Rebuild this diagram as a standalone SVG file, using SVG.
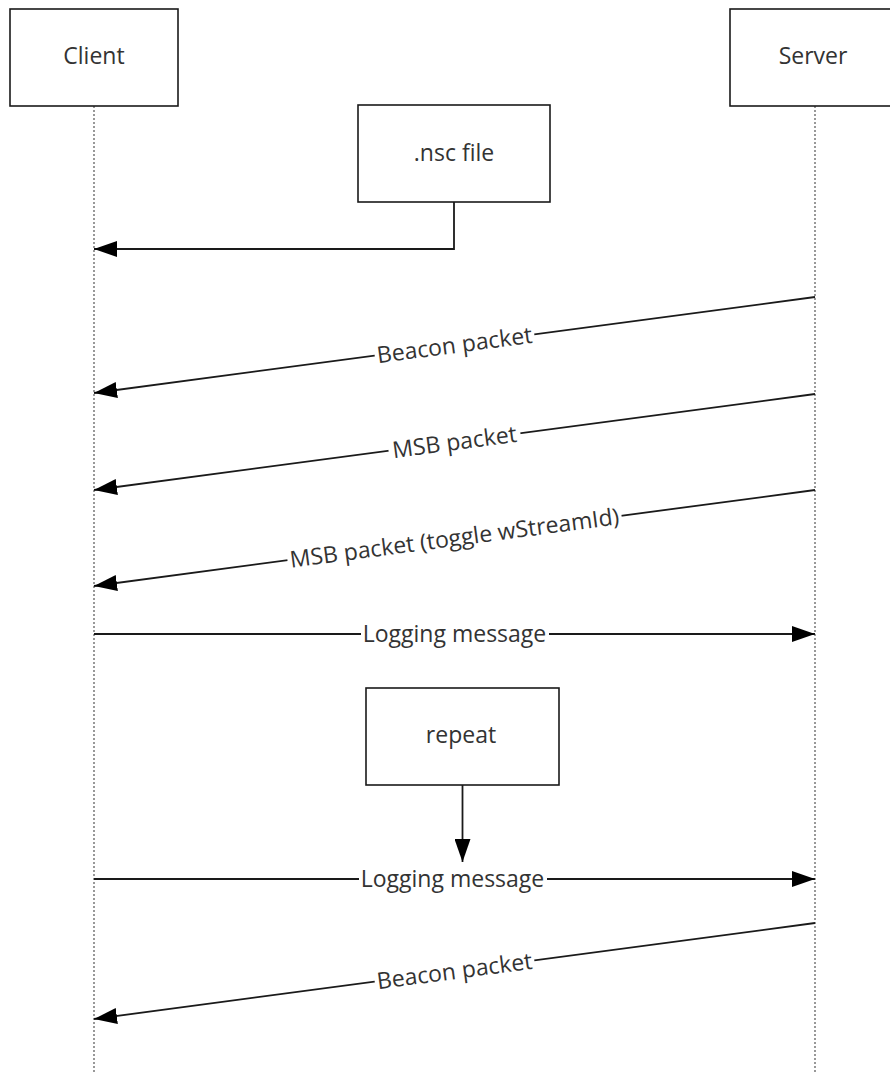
<svg xmlns="http://www.w3.org/2000/svg" width="890" height="1074" viewBox="0 0 890 1074">
<defs>
<style>
.box{fill:#fff;stroke:#1a1a1a;stroke-width:1.6}
.life{stroke:#555;stroke-width:1.2;stroke-dasharray:2 2;fill:none}
.msg{stroke:#1a1a1a;stroke-width:1.8;fill:none}
.lbl{font-family:"Open Sans","Noto Sans","Liberation Sans",sans-serif;font-size:23px;fill:#333;text-anchor:middle}
.gap{fill:#fff;stroke:none}
</style>
<marker id="arr" viewBox="0 0 23 16" markerWidth="23" markerHeight="16" refX="23" refY="8" orient="auto" markerUnits="userSpaceOnUse">
<path d="M0,0 L23,8 L0,16 Z" fill="#000"/>
</marker>
</defs>
<rect width="890" height="1074" fill="#fff"/>
<g id="lifelines">
<line class="life" x1="94" y1="106" x2="94" y2="1074"/>
<line class="life" x1="815" y1="106" x2="815" y2="1074"/>
</g>
<g id="client">
<rect class="box" x="10" y="9" width="168" height="97"/>
<text class="lbl" x="94" y="64">Client</text>
</g>
<g id="server">
<rect class="box" x="730" y="9" width="168" height="97"/>
<text class="lbl" x="813" y="64">Server</text>
</g>
<g id="nscfile">
<rect class="box" x="358" y="105" width="192" height="97"/>
<text class="lbl" x="454" y="161">.nsc file</text>
</g>
<g id="repeat">
<rect class="box" x="366" y="688" width="193" height="97"/>
<text class="lbl" x="461" y="743">repeat</text>
</g>
<g id="connectors">
<polyline class="msg" points="454,202 454,249 94,249" marker-end="url(#arr)"/>
<line class="msg" x1="462.5" y1="785" x2="462.5" y2="862" marker-end="url(#arr)"/>
<g>
<line class="msg" x1="815" y1="297" x2="94" y2="393" marker-end="url(#arr)"/>
<g transform="rotate(-7.58 454.5 345)">
<rect class="gap" x="374" y="333" width="161" height="24"/>
<text class="lbl" x="454.5" y="353">Beacon packet</text>
</g>
</g>
<g>
<line class="msg" x1="815" y1="394" x2="94" y2="490" marker-end="url(#arr)"/>
<g transform="rotate(-7.58 454.5 442)">
<rect class="gap" x="388" y="430" width="133" height="24"/>
<text class="lbl" x="454.5" y="450">MSB packet</text>
</g>
</g>
<g>
<line class="msg" x1="815" y1="490" x2="94" y2="586" marker-end="url(#arr)"/>
<g transform="rotate(-7.58 454.5 538)">
<rect class="gap" x="286" y="526" width="337" height="24"/>
<text class="lbl" x="454.5" y="546">MSB packet (toggle wStreamId)</text>
</g>
</g>
<g>
<line class="msg" x1="94" y1="634" x2="815" y2="634" marker-end="url(#arr)"/>
<rect class="gap" x="361" y="622" width="188" height="24"/>
<text class="lbl" x="454.5" y="642">Logging message</text>
</g>
<g>
<line class="msg" x1="94" y1="879" x2="815" y2="879" marker-end="url(#arr)"/>
<rect class="gap" x="359" y="867" width="188" height="24"/>
<text class="lbl" x="452.5" y="887">Logging message</text>
</g>
<g>
<line class="msg" x1="815" y1="923" x2="94" y2="1019" marker-end="url(#arr)"/>
<g transform="rotate(-7.58 454.5 971)">
<rect class="gap" x="374" y="959" width="161" height="24"/>
<text class="lbl" x="454.5" y="979">Beacon packet</text>
</g>
</g>
</g>
</svg>
